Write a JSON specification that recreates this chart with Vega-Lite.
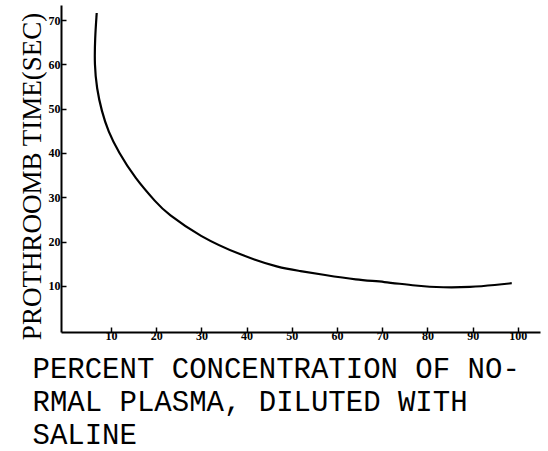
{
  "$schema": "https://vega.github.io/schema/vega-lite/v6.json",
  "autosize": "none",
  "width": 479,
  "height": 327,
  "padding": {"left": 61, "top": 5, "right": 8, "bottom": 119},
  "background": "white",
  "config": {"view": {"stroke": null}},
  "data": {"values": [
    {"i": 1, "pct": 6.84, "sec": 71.6},
    {"i": 2, "pct": 6.46, "sec": 65.9},
    {"i": 3, "pct": 6.35, "sec": 59.9},
    {"i": 4, "pct": 6.84, "sec": 54.6},
    {"i": 5, "pct": 7.94, "sec": 49.4},
    {"i": 6, "pct": 9.4, "sec": 44.8},
    {"i": 7, "pct": 11.6, "sec": 40.3},
    {"i": 8, "pct": 15.3, "sec": 34.3},
    {"i": 9, "pct": 20.1, "sec": 28.7},
    {"i": 10, "pct": 22.3, "sec": 26.4},
    {"i": 11, "pct": 29.7, "sec": 21.1},
    {"i": 12, "pct": 38.5, "sec": 17.0},
    {"i": 13, "pct": 47.4, "sec": 14.0},
    {"i": 14, "pct": 51.8, "sec": 13.4},
    {"i": 15, "pct": 57.0, "sec": 12.5},
    {"i": 16, "pct": 64.4, "sec": 11.35},
    {"i": 17, "pct": 70.2, "sec": 10.97},
    {"i": 18, "pct": 77.6, "sec": 10.0},
    {"i": 19, "pct": 83.5, "sec": 9.62},
    {"i": 20, "pct": 89.4, "sec": 9.71},
    {"i": 21, "pct": 95.3, "sec": 10.23},
    {"i": 22, "pct": 98.65, "sec": 10.61}
  ]},
  "mark": {"type": "line", "color": "black", "strokeWidth": 2.2, "interpolate": "basis"},
  "encoding": {
    "order": {"field": "i", "type": "quantitative"},
    "x": {
      "field": "pct", "type": "quantitative",
      "scale": {"domain": [-1.06, 104.9], "nice": false, "zero": false},
      "axis": {
        "values": [10, 20, 30, 40, 50, 60, 70, 80, 90, 100],
        "grid": false,
        "domainColor": "black", "domainWidth": 2,
        "tickColor": "black", "tickWidth": 1.5, "tickSize": -5,
        "labelFont": "Liberation Serif", "labelFontWeight": "bold", "labelFontSize": 12,
        "labelColor": "black", "labelPadding": 3,
        "title": ["PERCENT CONCENTRATION OF NO-", "RMAL PLASMA, DILUTED WITH", "SALINE"],
        "titleFont": "Liberation Mono", "titleFontSize": 29, "titleFontWeight": "normal",
        "titleColor": "black", "titleAlign": "left", "titleAnchor": "start",
        "titleBaseline": "alphabetic", "titleLineHeight": 33,
        "titleX": -29, "titleY": 45
      }
    },
    "y": {
      "field": "sec", "type": "quantitative",
      "scale": {"domain": [-0.4, 73.4], "nice": false, "zero": false},
      "axis": {
        "values": [10, 20, 30, 40, 50, 60, 70],
        "grid": false,
        "domainColor": "black", "domainWidth": 2,
        "tickColor": "black", "tickWidth": 1.5, "tickSize": -5,
        "labelFont": "Liberation Serif", "labelFontWeight": "bold", "labelFontSize": 12,
        "labelColor": "black", "labelPadding": 6,
        "title": "PROTHROOMB TIME(SEC)",
        "titleFont": "Liberation Serif", "titleFontSize": 27, "titleFontWeight": "normal",
        "titleColor": "black", "titleAngle": 270, "titleAlign": "center",
        "titleBaseline": "alphabetic", "titleX": -21, "titleY": 171
      }
    }
  }
}
